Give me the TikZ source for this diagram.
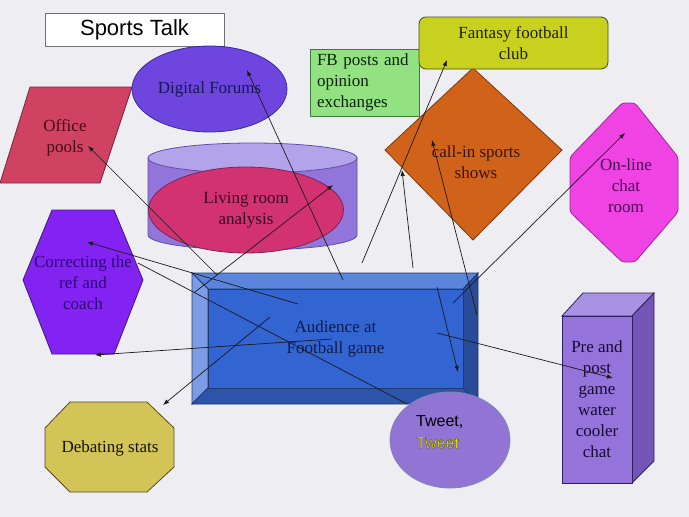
\documentclass[tikz,border=0pt]{standalone}
\usepackage{fontspec}
\setmainfont{Liberation Serif}
\newfontfamily\arialfont{Liberation Sans}
\usetikzlibrary{shapes.geometric, positioning, arrows.meta, graphs}

\definecolor{paper}{HTML}{EEEEF2}
\definecolor{titleline}{HTML}{707070}
\definecolor{forumfill}{HTML}{6F45E0}
\definecolor{forumline}{HTML}{3A2A9A}
\definecolor{forumtext}{HTML}{141850}
\definecolor{poolfill}{HTML}{CF4262}
\definecolor{poolline}{HTML}{7A2540}
\definecolor{pooltext}{HTML}{480814}
\definecolor{cylbody}{HTML}{9275DA}
\definecolor{cyltop}{HTML}{B3A3EA}
\definecolor{cylline}{HTML}{5F4FA8}
\definecolor{loungefill}{HTML}{D23271}
\definecolor{loungeline}{HTML}{7E2552}
\definecolor{loungetext}{HTML}{3A0822}
\definecolor{postfill}{HTML}{92E282}
\definecolor{postline}{HTML}{3E7A3E}
\definecolor{posttext}{HTML}{0A200A}
\definecolor{fantasyfill}{HTML}{C9D11F}
\definecolor{fantasyline}{HTML}{4A4A10}
\definecolor{fantasytext}{HTML}{202000}
\definecolor{radiofill}{HTML}{D0621A}
\definecolor{radioline}{HTML}{7A3A10}
\definecolor{radiotext}{HTML}{3A1400}
\definecolor{chatfill}{HTML}{F043E4}
\definecolor{chatline}{HTML}{9A2A9A}
\definecolor{chattext}{HTML}{4A0850}
\definecolor{coachfill}{HTML}{8323F2}
\definecolor{coachline}{HTML}{3A1A80}
\definecolor{coachtext}{HTML}{2E0678}
\definecolor{statsfill}{HTML}{D3C458}
\definecolor{statsline}{HTML}{5A4A20}
\definecolor{statstext}{HTML}{141408}
\definecolor{bevtop}{HTML}{5B85DC}
\definecolor{bevleft}{HTML}{7C9CE3}
\definecolor{bevbottom}{HTML}{2C54AA}
\definecolor{bevright}{HTML}{2A4C98}
\definecolor{bevface}{HTML}{3264D2}
\definecolor{bevline}{HTML}{1E3A70}
\definecolor{audtext}{HTML}{0E1C4A}
\definecolor{tweetfill}{HTML}{9274D4}
\definecolor{tweetline}{HTML}{7A8AB0}
\definecolor{tweetyellow}{HTML}{F6F600}
\definecolor{coolerfront}{HTML}{9474DA}
\definecolor{coolertop}{HTML}{A992E3}
\definecolor{coolerside}{HTML}{7456B6}
\definecolor{coolerline}{HTML}{2E2060}
\definecolor{coolertext}{HTML}{160A34}
\definecolor{linkcol}{HTML}{1A1A1A}

% yellow letters with a thin dark rim
\newcommand{\rimtext}[1]{{\color{tweetyellow}\special{pdf:literal direct 0.25 0.25 0.05 RG 0.3 w 2 Tr}#1\special{pdf:literal direct 0 Tr}}}

\begin{document}
\begin{tikzpicture}[x=1pt, y=-1pt, >={Latex[length=6pt,width=4.5pt]},
    every node/.style={inner sep=0pt, align=center, font=\fontsize{17}{21}\selectfont},
    outline/.style={line width=0.8pt},
    link/.style={draw=linkcol, line width=0.7pt},
    arial/.style={font=\arialfont\fontsize{16}{22}\selectfont}]

    \fill[paper] (0,0) rectangle (689,517);
    \useasboundingbox (0,0) rectangle (689,517);

    \node[draw=titleline, fill=white, outline, minimum width=179pt, minimum height=33pt, font=\arialfont\fontsize{22}{26}\selectfont] (sports talk) at (134.5,29.5) {Sports Talk};
    \node[ellipse, draw=forumline, fill=forumfill, outline, minimum width=155pt, minimum height=86pt, text=forumtext] (digital forums) at (209.5,89) {Digital Forums};

    \draw[outline, draw=poolline, fill=poolfill] (30,87) -- (132,87) -- (100,183) -- (0,183) -- cycle;
    \node[text=pooltext] (office pools) at (65,138) {Office\\pools};

    % cylinder behind the living room
    \draw[outline, draw=cylline, fill=cylbody] (148,158) -- (148,235) arc[start angle=180, end angle=360, x radius=104.5pt, y radius=15pt] -- (357,158) -- cycle;
    \draw[outline, draw=cylline, fill=cyltop] (252.5,158) ellipse [x radius=104.5pt, y radius=15pt];
    \node[ellipse, draw=loungeline, fill=loungefill, outline, minimum width=195pt, minimum height=86pt, text=loungetext] (living room) at (246,210) {Living room\\analysis};

    \node[draw=postline, fill=postfill, outline, minimum width=109pt, minimum height=67pt, text width=95pt, align=left, text=posttext] (fb posts) at (364.5,82.5) {FB posts and\\opinion\\exchanges};

    \draw[outline, draw=radioline, fill=radiofill] (473,68) -- (562,150) -- (473,240) -- (385,150) -- cycle;
    \node[text=radiotext] (call-in shows) at (476,162) {call-in sports\\shows};
    \node[rounded corners=7pt, draw=fantasyline, fill=fantasyfill, outline, minimum width=189pt, minimum height=52pt, text=fantasytext] (fantasy club) at (513.5,43) {Fantasy football\\club};

    \draw[outline, draw=chatline, fill=chatfill, rounded corners=3pt] (622,103) -- (635,103) -- (678,157) -- (678,212) -- (635,262) -- (622,262) -- (570,212) -- (570,157) -- cycle;
    \node[text=chattext] (chat room) at (626,186) {On-line\\chat\\room};

    \draw[outline, draw=coachline, fill=coachfill] (52,210) -- (114,210) -- (143,280) -- (114,354) -- (52,354) -- (23,280) -- cycle;
    \node[text=coachtext] (ref and coach) at (83,283) {Correcting the\\ref and\\coach};

    \draw[outline, draw=statsline, fill=statsfill] (70,402) -- (147,402) -- (174,428) -- (174,467) -- (147,492) -- (70,492) -- (45,467) -- (45,428) -- cycle;
    \node[text=statstext] (debating stats) at (110,448) {Debating stats};

    % bevelled audience box
    \draw[outline, draw=bevline, fill=bevtop] (192,273) -- (478,273) -- (463,289) -- (208,289) -- cycle;
    \draw[outline, draw=bevline, fill=bevleft] (192,273) -- (208,289) -- (208,388) -- (192,404) -- cycle;
    \draw[outline, draw=bevline, fill=bevbottom] (192,404) -- (208,388) -- (463,388) -- (478,404) -- cycle;
    \draw[outline, draw=bevline, fill=bevright] (478,273) -- (478,404) -- (463,388) -- (463,289) -- cycle;
    \node[draw=bevline, fill=bevface, outline, minimum width=255pt, minimum height=99pt, text=audtext] (audience) at (335.5,338.5) {Audience at\\Football game};

    % water cooler block
    \draw[outline, draw=coolerline, fill=coolertop] (562,316) -- (583,293) -- (654,293) -- (632,316) -- cycle;
    \draw[outline, draw=coolerline, fill=coolerside] (632,316) -- (654,293) -- (654,461) -- (632,483) -- cycle;
    \node[draw=coolerline, fill=coolerfront, outline, minimum width=70pt, minimum height=167pt, text=coolertext] (water cooler) at (597,399.5) {Pre and\\post\\game\\water\\cooler\\chat};

    \coordinate (aud forums) at (343,280);   \coordinate (forums tip) at (247,70);
    \coordinate (aud pools) at (217,275);    \coordinate (pools tip) at (88,146);
    \coordinate (aud lounge) at (195,292);   \coordinate (lounge tip) at (333,185);
    \coordinate (aud coach 1) at (298,304);  \coordinate (coach tip 1) at (87,242);
    \coordinate (aud coach 2) at (332,339);  \coordinate (coach tip 2) at (95,355);
    \coordinate (coach edge) at (138,263);   \coordinate (tweet edge) at (407,404);
    \coordinate (aud stats) at (270,317);    \coordinate (stats tip) at (163,405);
    \coordinate (aud fantasy) at (362,263);  \coordinate (fantasy tip) at (447,60);
    \coordinate (aud radio 1) at (413,268);  \coordinate (radio tip 1) at (402,170);
    \coordinate (aud radio 2) at (477,315);  \coordinate (radio tip 2) at (432,140);
    \coordinate (aud chat) at (453,303);     \coordinate (chat tip) at (625,133);
    \coordinate (aud tweet) at (437,287);    \coordinate (tweet tip) at (458,372);
    \coordinate (aud cooler) at (437,333);   \coordinate (cooler tip) at (613,378);

    \graph[edges=link]{(aud forums) -> (forums tip); (aud pools) -> (pools tip); (aud lounge) -> (lounge tip);
    (aud coach 1) -> (coach tip 1); (aud coach 2) -> (coach tip 2); (coach edge) -- (tweet edge);
    (aud stats) -> (stats tip); (aud fantasy) -> (fantasy tip); (aud radio 1) -> (radio tip 1);
    (aud radio 2) -> (radio tip 2); (aud chat) -> (chat tip); (aud tweet) -> (tweet tip); (aud cooler) -> (cooler tip)};

    \node[ellipse, draw=tweetline, fill=tweetfill, outline, minimum width=120pt, minimum height=96pt] (tweet) at (450,440) {};
    \node[arial, align=left, anchor=north west] (tweet text) at (416,415) {Tweet,\\\rimtext{Tweet}};
\end{tikzpicture}
\end{document}
